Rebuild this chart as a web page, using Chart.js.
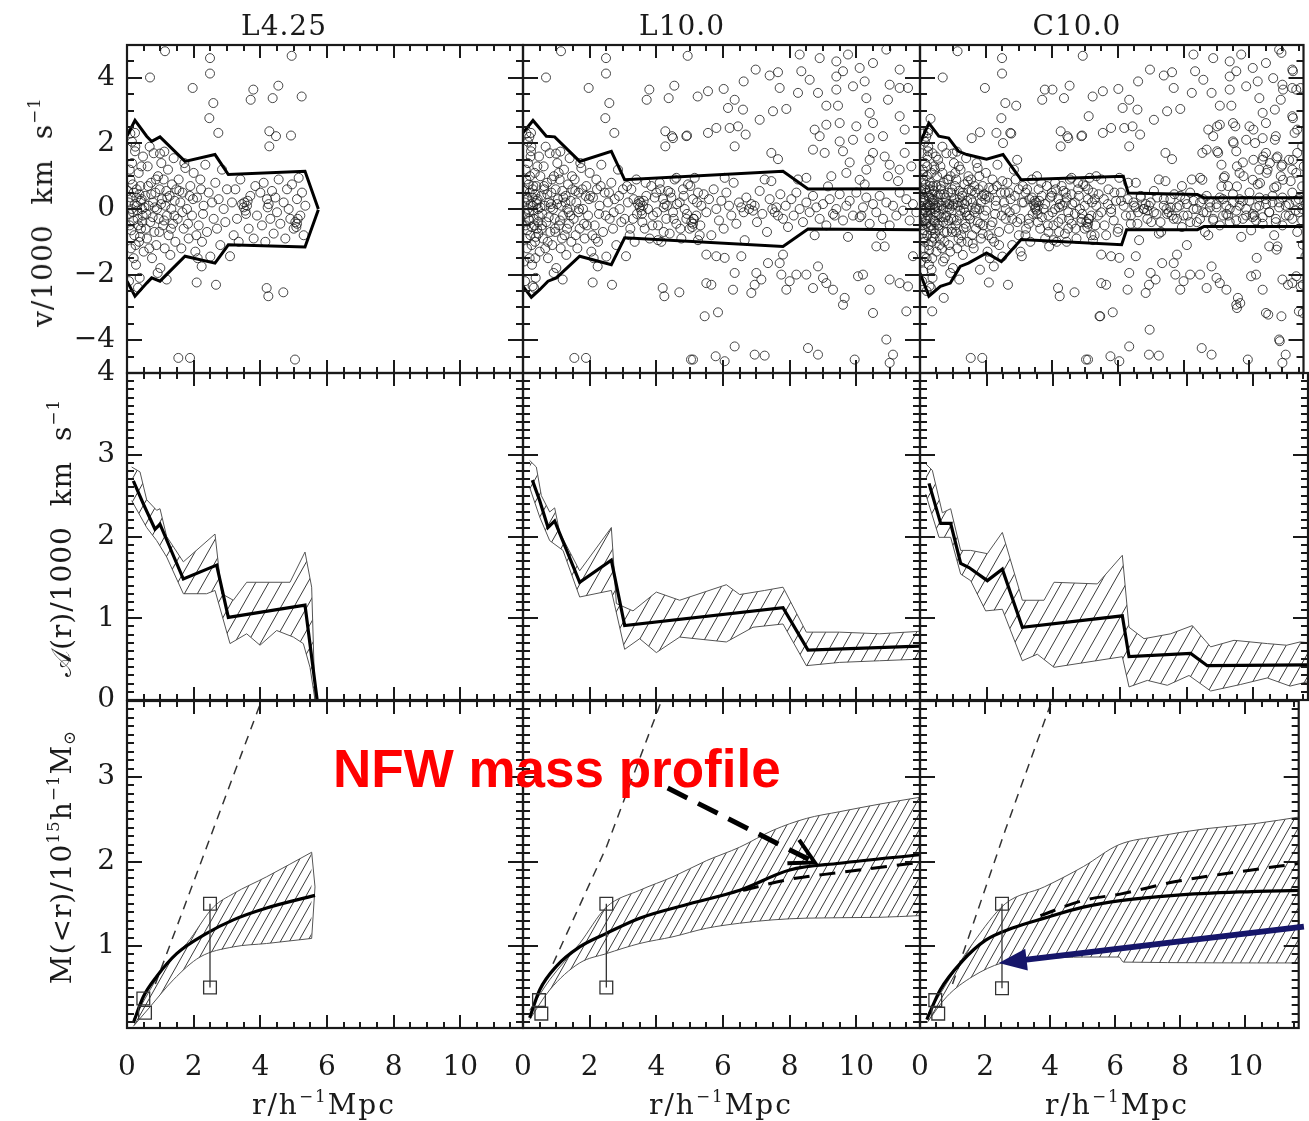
<!DOCTYPE html>
<html>
<head>
<meta charset="utf-8">
<script src="https://cdn.jsdelivr.net/npm/chart.js@4.4.1/dist/chart.umd.min.js"></script>
<style>
html, body { margin: 0; padding: 0; background: #fff; }
#page { position: relative; width: 1309px; height: 1121px; overflow: hidden; font-family: "DejaVu Serif", serif; color: #1a1a1a; }
#page canvas { position: absolute; left: 0; top: 0; }
.lbl { position: absolute; white-space: nowrap; font-size: 28px; line-height: 1; }
.ctr { transform: translate(-50%, -50%); }
.rot { transform: translate(-50%, -50%) rotate(-90deg); }
.lbl sup { font-size: 0.6em; vertical-align: 0.7em; line-height: 0; }
.lbl sub { font-size: 0.6em; vertical-align: -0.25em; line-height: 0; }
#nfw { position: absolute; left: 333px; top: 742px; font: bold 53px "Liberation Sans", Arial, sans-serif; color: #f00; line-height: 1; white-space: nowrap; }
</style>
</head>
<body>
<div id="page">
  <div class="lbl ctr" style="left:284px;top:26px;letter-spacing:1px">L4.25</div>
  <div class="lbl ctr" style="left:682px;top:26px;letter-spacing:1px">L10.0</div>
  <div class="lbl ctr" style="left:1077px;top:26px;letter-spacing:1px">C10.0</div>
  <div class="lbl rot" style="left:43px;top:212px;letter-spacing:1px">v/1000&nbsp;&nbsp;km&nbsp;&nbsp;s<sup>−1</sup></div>
  <div class="lbl rot" style="left:62px;top:538px;letter-spacing:1px">𝒜(r)/1000&nbsp;&nbsp;km&nbsp;&nbsp;s<sup>−1</sup></div>
  <div class="lbl rot" style="left:62px;top:857px;letter-spacing:1px">M(&lt;r)/10<sup>15</sup>h<sup>−1</sup>M<sub>⊙</sub></div>
  <div class="lbl ctr" style="left:324px;top:1105px;letter-spacing:2px">r/h<sup>−1</sup>Mpc</div>
  <div class="lbl ctr" style="left:721px;top:1105px;letter-spacing:2px">r/h<sup>−1</sup>Mpc</div>
  <div class="lbl ctr" style="left:1117px;top:1105px;letter-spacing:2px">r/h<sup>−1</sup>Mpc</div>
</div>
<script>
// ---- galaxies in the phase-space diagrams (r, v/1000 km/s) ----
// L4.25 sample (also present in L10.0 and C10.0)
const outerL425 = [[1.14,4.81],[0.69,4.01],[2.49,4.6],[2.49,4.13],[1.97,3.69],[2.59,3.23],[2.47,2.77],[2.74,2.32],[4.94,4.67],[3.79,3.64],[3.71,3.33],[4.37,3.38],[4.54,3.76],[5.24,3.43],[4.27,2.37],[4.47,2.22],[4.27,1.91],[4.92,2.24],[1.54,-4.54],[1.89,-4.54],[5.04,-4.59],[2.09,-2.24],[2.67,-2.31],[3.09,-1.44],[1.19,-2.15],[2.24,-1.75],[4.19,-2.41],[4.24,-2.66],[4.69,-2.54],[0.24,2.32],[0.24,1.76],[0.99,1.69]];
const innerL425 = [[0.05,0.2],[0.08,-0.5],[0.1,0.9],[0.12,-1.2],[0.15,1.4],[0.18,-0.1],[0.2,0.5],[0.22,-0.8],[0.25,1.9],[0.27,-1.7],[0.3,0.1],[0.32,-0.3],[0.35,1.1],[0.38,-2.1],[0.4,0.7],[0.42,-0.6],[0.45,0.0],[0.48,1.6],[0.1,2.3],[0.06,-2.2],[0.14,0.0],[0.28,0.35],[0.36,-1.0],[0.44,0.3],[0.2,-1.5],[0.33,-2.4],[0.15,2.05],[0.5,-1.3],[0.08,1.2],[0.47,-0.2],
  [0.55,0.4],[0.6,-0.9],[0.62,1.3],[0.65,0.1],[0.7,-0.4],[0.72,0.8],[0.75,-1.5],[0.78,0.2],[0.8,1.7],[0.82,-0.7],[0.85,0.5],[0.88,-1.1],[0.9,0.0],[0.93,1.0],[0.95,-0.3],[0.98,0.6],[1.0,-1.8],[1.03,1.4],[1.05,0.3],[1.08,-0.5],[1.1,0.9],[1.13,-1.2],[1.15,0.1],[1.18,0.55],[1.2,-0.2],[1.23,1.2],[1.25,-0.8],[1.28,0.4],[1.3,-1.4],[1.33,0.0],[1.35,0.75],[1.38,-0.45],[1.4,1.55],[1.43,0.25],[1.45,-1.0],[1.48,0.6],[0.68,1.9],[0.92,-1.95],[1.12,1.75],[0.58,-0.15],
  [1.52,-0.3],[1.55,0.9],[1.6,0.2],[1.63,-1.2],[1.67,0.5],[1.7,-0.6],[1.75,1.25],[1.8,0.0],[1.85,-0.9],[1.9,0.7],[1.95,-0.2],[2.0,1.1],[2.05,-1.3],[2.1,0.35],[2.15,-0.5],[2.2,0.9],[2.25,-1.0],[2.3,0.1],[2.35,1.35],[2.4,-0.7],[2.45,0.5],[2.5,-1.45],[2.55,0.2],[2.6,-0.3],[1.72,1.4],[2.12,-1.5],[1.88,0.4],[2.28,-0.15],
  [2.65,0.8],[2.7,-0.6],[2.75,0.3],[2.8,-1.1],[2.85,1.2],[2.9,0.0],[2.95,-0.4],[3.0,0.6],
  [3.15,0.2],[3.2,-0.8],[3.25,0.6],[3.3,-0.3],[3.4,0.9],[3.45,0.15],[3.5,0.05],[3.52,0.2],[3.55,-0.05],[3.6,0.1],[3.65,-0.6],[3.7,0.4],[3.8,-0.9],[3.85,0.7],[3.9,-0.2],[4.0,0.5],[4.05,-0.5],[4.1,0.8],[4.2,0.3],[4.25,0.15],[4.3,-0.3],[4.35,0.55],[4.4,-0.75],[4.45,0.35],[4.5,-0.1],[4.55,0.9],[4.6,-0.45],[4.7,0.2],[4.75,-0.9],[4.8,0.6],[4.85,0.0],[4.9,-0.3],[4.95,0.75],[5.0,-0.6],[5.05,-0.4],[5.1,-0.45],[5.1,0.3],[5.15,0.95],[5.2,-0.2],[5.25,0.5],[5.3,-0.8],[5.35,0.1],[4.15,-1.0],[3.35,-1.0],
  [0.03,0.55],[0.07,-0.15],[0.11,0.35],[0.13,-0.65],[0.17,0.75],[0.19,-0.35],[0.23,0.15],[0.26,-1.1],[0.29,0.6],[0.31,-0.05],[0.34,-0.5],[0.37,0.45],[0.39,-0.85],[0.41,0.25],[0.43,1.3],[0.46,-0.4],[0.52,0.05],[0.56,-0.6],[0.63,0.7],[0.67,-1.2],[0.73,0.45],[0.77,-0.25],[0.83,0.05],[0.87,0.9],[0.97,-0.7],[1.02,0.15],[1.11,-0.35],[1.21,0.35],[1.32,-0.6],[1.42,-0.2],[1.57,0.55],[1.66,-0.1],[1.83,-0.45],[1.98,0.3],[2.08,-0.8],[2.22,0.6],[3.57,-0.15],[3.62,0.25],[4.22,0.05],[5.08,-0.55],[5.12,-0.3]];
// extra galaxies seen in L10.0 (also in C10.0)
const outerL10 = [[5.55,3.59],[6.02,3.66],[6.62,3.89],[6.98,4.25],[7.4,4.07],[7.65,4.17],[7.7,3.69],[7.1,2.72],[7.5,2.98],[7.9,3.05],[6.15,3.08],[6.6,3.03],[6.35,3.33],[6.2,2.47],[6.45,2.52],[6.68,2.27],[6.35,1.91],[5.55,2.32],[5.8,2.47],[4.9,2.22],[4.5,2.16],[7.45,1.71],[7.65,1.52],[8.3,4.71],[8.9,4.6],[9.4,4.5],[9.75,4.71],[10.1,4.3],[10.5,4.45],[8.35,4.2],[8.6,3.94],[8.25,3.54],[8.85,3.54],[9.4,4.04],[9.6,4.2],[9.9,3.74],[10.25,3.89],[10.3,3.38],[9.4,3.64],[9.1,3.15],[9.45,3.15],[10.4,2.93],[10.5,2.62],[8.75,2.42],[9.1,2.57],[9.5,2.62],[10.0,2.52],[8.9,2.22],[9.5,2.06],[9.9,2.11],[10.4,2.16],[8.7,1.81],[9.05,1.71],[9.6,1.76],[9.8,1.42],[10.4,1.5],[10.5,1.71],[9.7,1.1],[10.3,1.2],[10.1,0.89],[8.5,0.95],[9.15,0.69],
  [5.1,-4.59],[5.78,-4.49],[6.05,-4.64],[6.35,-4.19],[6.95,-4.44],[7.25,-4.47],[8.55,-4.24],[8.85,-4.44],[9.95,-4.59],[5.45,-3.27],[5.85,-3.15],[10.5,-3.17],[5.5,-1.39],[5.8,-1.44],[6.05,-1.49],[6.55,-1.44],[5.5,-2.26],[5.65,-2.31],[6.3,-2.46],[6.35,-1.95],[6.85,-2.56],[6.95,-2.31],[7.0,-1.95],[7.15,-2.15],[7.35,-1.65],[7.7,-1.65],[7.75,-2.0],[7.8,-1.39],[8.0,-2.2],[7.9,-2.46],[8.2,-2.0],[8.5,-2.0],[8.7,-2.41],[8.85,-1.75],[9.0,-2.1],[9.1,-2.26],[9.3,-2.46],[9.6,-2.92],[9.65,-2.71],[10.05,-2.05],[10.2,-2.0],[10.4,-2.46],[10.6,-1.14],
  [10.9,4.86],[11.3,4.25],[11.0,3.79],[11.3,3.69],[11.55,3.69],[10.95,3.33],[11.3,2.83],[11.45,2.42],[10.8,2.22],[11.45,1.71],[10.85,1.6],[11.0,1.35],[11.3,1.2],[10.95,1.0],[11.65,1.3],[10.85,-1.14],[11.7,-1.44],[11.0,-2.15],[11.3,-2.26],[11.55,-2.36],[11.5,-3.12],[10.9,-3.98],[11.1,-4.44],[11.0,-4.69]];
const innerL10 = [[0.04,0.6],[0.09,-0.9],[0.13,0.3],[0.17,-0.3],[0.21,1.0],[0.26,-0.55],[0.31,0.7],[0.37,-1.5],[0.41,0.15],[0.46,-0.75],[0.52,1.0],[0.57,-0.5],[0.64,0.6],[0.74,-1.0],[0.84,0.15],[0.96,-0.6],[1.07,1.1],[1.17,-0.9],[1.27,0.2],[1.37,-0.1],[1.47,1.0],[1.58,-0.8],[1.68,0.0],[1.78,0.6],[1.92,-0.5],[2.02,0.4],[2.18,-0.9],[2.33,0.7],[2.48,-0.2],[2.58,0.5],[2.72,-0.1],[2.88,0.4],[0.03,-1.6],[0.19,2.2],[0.29,-2.35],[0.23,1.6],
  [3.05,-0.3],[3.12,0.7],[3.22,-0.6],[3.32,0.3],[3.42,-0.15],[3.48,0.25],[3.58,-0.4],[3.68,0.8],[3.75,0.0],[3.88,-0.5],[3.95,0.35],[4.02,-0.1],[4.12,0.6],[4.22,-0.7],[4.32,0.1],[4.42,0.5],[4.52,-0.3],[4.62,0.15],[4.72,-0.6],[4.82,0.4],[4.92,-0.15],[5.02,0.7],[5.12,-0.3],[5.22,0.2],[5.32,-0.5],[5.42,0.45],[5.5,-0.1],[5.58,0.3],[5.65,-0.8],[5.72,0.6],[5.8,0.0],[5.88,-0.35],[5.95,0.25],[6.02,-0.6],[6.1,0.5],[6.18,0.1],[6.25,-0.2],[6.32,0.8],[6.4,-0.45],[6.48,0.2],[6.55,0.05],[6.62,-0.1],[6.7,0.35],[6.78,0.0],[6.85,0.15],[6.9,-0.05],[6.95,0.1],[7.02,-0.4],[7.1,0.55],[7.18,-0.15],[7.25,0.9],[7.32,-0.7],[7.4,0.3],[7.48,0.0],[7.55,-0.1],[7.6,0.05],[7.65,-0.2],[7.72,0.45],[7.8,-0.3],[7.88,0.1],[7.95,-0.55],[6.05,0.95],[5.25,-0.95],[4.05,-0.95],[6.65,-0.95],[7.45,0.85],[4.6,0.95],
  [8.05,0.3],[8.12,-0.2],[8.2,0.5],[8.3,0.0],[8.4,-0.4],[8.5,0.2],[8.6,-0.1],[8.7,0.4],[8.8,0.05],[8.9,-0.3],[9.0,0.15],[9.1,-0.5],[9.2,0.3],[9.3,-0.15],[9.35,-0.2],[9.4,0.0],[9.5,0.45],[9.6,-0.35],[9.7,0.1],[9.8,0.25],[9.9,-0.2],[10.0,0.5],[10.1,-0.25],[10.15,-0.2],[10.2,0.05],[10.3,0.35],[10.4,-0.45],[10.5,0.15],[10.6,-0.1],[10.7,0.4],[10.8,-0.3],[10.9,0.2],[11.0,-0.5],[11.1,0.1],[11.2,-0.2],[11.3,0.5],[11.4,-0.05],[11.5,0.3],[11.6,-0.35],[11.7,0.15],[11.8,-0.1],[8.25,0.9],[8.75,-0.8],[9.25,1.0],[9.75,-0.85],[10.25,0.75],[10.75,-0.8],[11.25,0.85]];
// extra galaxies seen only in C10.0
const outerC10 = [[1.57,2.16],[1.82,2.34],[2.32,2.32],[2.77,2.3],[2.52,2.01],[2.92,3.15],[4.02,3.64],[5.12,2.83],[0.32,2.75],[0.37,-3.12],[0.72,-2.71],[1.82,-1.85],[3.92,-1.14],[10.97,-3.27],[10.57,-3.22],[6.97,-3.68],[10.92,-4.03],[11.62,-3.17],[5.47,-3.27],[9.62,-3.02],[9.72,-2.87],[11.17,-2.31],[11.42,-2.05],[11.62,-2.31],[10.82,-1.24],[10.22,-1.49],[11.62,-1.09],[9.02,2.52],[9.57,2.52],[10.12,2.42],[9.52,2.01],[10.17,2.01],[10.77,2.11],[11.37,2.32],[11.6,1.91],[8.57,1.71],[9.02,1.76],[9.22,0.95],[9.62,1.3],[10.12,1.5],[10.42,1.6],[10.62,1.4],[10.82,1.55],[10.97,1.3],[11.32,1.5],[9.82,1.0],[10.52,1.1],[11.02,0.89],[11.42,1.1],[8.57,0.89],[10.32,0.79],[10.82,0.69],[11.6,0.69],[9.62,0.69],[11.32,4.2],[11.42,3.64],[11.02,3.64],[10.72,3.99],[10.97,4.76],[11.32,2.77],[10.77,3.03]];
const innerC10 = [[0.02,0.1],[0.04,-0.3],[0.06,0.45],[0.07,-0.75],[0.09,1.05],[0.11,-0.05],[0.12,0.25],[0.14,-1.0],[0.16,0.6],[0.18,-0.45],[0.2,0.05],[0.22,1.3],[0.24,-0.2],[0.26,0.4],[0.28,-1.25],[0.3,0.8],[0.32,0.0],[0.34,-0.65],[0.36,0.3],[0.38,1.7],[0.4,-0.35],[0.42,0.55],[0.44,-0.9],[0.46,0.1],[0.48,-0.1],[0.5,0.7],[0.53,-0.45],[0.56,0.2],[0.59,-1.1],[0.62,0.45],[0.65,-0.25],[0.68,1.1],[0.71,0.0],[0.74,-0.7],[0.77,0.35],[0.8,-0.2],[0.83,0.9],[0.86,-0.35],[0.89,0.15],[0.92,-1.3],[0.95,0.5],[0.98,0.1],[1.02,-0.3],[1.06,0.7],[1.1,-0.7],[1.14,0.2],[1.18,1.3],[1.22,-0.05],[1.26,-1.0],[1.3,0.5],[1.35,0.15],[1.4,-0.55],[1.45,0.85],[1.5,-0.2],[1.55,0.3],[1.6,-1.05],[1.65,0.7],[1.7,0.05],[1.75,-0.4],[1.8,1.0],[1.85,0.2],[1.9,-0.75],[1.95,0.45],[2.0,-0.05],[2.1,0.65],[2.2,-0.4],[2.3,0.25],[2.4,-1.1],[2.5,0.85],[2.6,0.0],[0.1,-1.9],[0.05,1.7],[0.25,2.4],[0.2,-2.5],[0.35,-1.85],[0.55,1.5],[0.7,-1.6],[0.15,-1.45],[0.45,1.2],
  [2.7,0.5],[2.8,-0.3],[2.9,0.9],[3.0,-0.8],[3.1,0.2],[3.2,0.5],[3.3,-0.45],[3.4,0.35],[3.5,0.0],[3.6,0.6],[3.7,-0.25],[3.8,0.15],[3.9,-0.7],[4.0,0.4],[4.1,0.0],[4.2,-0.4],[4.3,0.7],[4.4,0.2],[4.5,-0.6],[4.6,0.45],[4.7,-0.15],[4.8,0.8],[4.9,-0.4],[5.0,0.1],[5.1,0.6],[5.2,-0.8],[5.3,0.3],[5.4,-0.2],[5.5,0.9],[5.6,-0.5],[5.7,0.15],[5.8,-0.1],[5.9,0.5],[6.0,-0.7],[6.1,0.25],[3.55,1.0],[4.45,-1.0],[5.35,1.0],[2.95,1.5],[3.05,-1.3],
  [6.3,0.3],[6.4,-0.2],[6.5,0.1],[6.6,-0.45],[6.7,0.4],[6.8,0.0],[6.9,-0.3],[7.0,0.2],[7.1,-0.1],[7.2,0.35],[7.3,-0.4],[7.4,0.1],[7.5,-0.15],[7.6,0.3],[7.7,-0.3],[7.8,0.05],[7.9,0.4],[8.0,-0.2],[8.1,0.15],[8.2,-0.4],[8.3,0.25],[8.4,0.0],[8.5,-0.3],[8.6,0.3],[8.7,-0.1],[8.8,0.2],[8.9,-0.35],[9.0,0.05],[9.1,0.35],[9.2,-0.2],[9.3,0.1],[9.4,-0.4],[9.5,0.2],[9.6,-0.05],[9.7,0.3],[9.8,-0.3],[9.9,0.0],[10.0,0.25],[10.1,-0.15],[10.2,-0.35],[10.3,0.1],[10.4,-0.25],[10.5,0.3],[10.6,-0.1],[10.7,0.2],[10.8,-0.4],[10.9,0.05],[11.0,0.35],[11.1,-0.2],[11.2,0.15],[11.3,-0.3],[11.4,0.25],[11.5,-0.1],[11.6,0.0],[6.55,0.8],[7.25,-0.75],[7.95,0.7],[8.65,-0.7],[9.35,0.7],[10.05,-0.65],[10.75,0.65],[11.45,-0.7],[9.15,1.35],[10.55,1.2],[11.2,1.5],[8.1,-1.1]];

// ---- caustics drawn on the phase-space diagrams ----
const causticUpL425 = [[0,2.22],[0.24,2.7],[0.59,2.22],[0.74,2.06],[0.99,2.2],[1.74,1.45],[2.64,1.66],[3.04,1.05],[5.34,1.15],[5.74,0]];
const causticLoL425 = [[0,-2.2],[0.24,-2.66],[0.59,-2.26],[0.74,-2.1],[0.99,-2.2],[1.74,-1.44],[2.64,-1.65],[3.04,-1.09],[5.34,-1.16],[5.74,-0.02]];
const causticUpL10 = [[0,2.32],[0.3,2.7],[0.7,2.22],[0.95,2.2],[1.7,1.45],[2.65,1.76],[3.05,0.89],[7.8,1.15],[8.55,0.61],[11.9,0.62]];
const causticLoL10 = [[0,-2.36],[0.25,-2.69],[0.5,-2.46],[0.75,-2.2],[1.0,-2.1],[1.7,-1.44],[2.65,-1.7],[3.05,-0.88],[7.8,-1.14],[8.55,-0.61],[11.9,-0.63]];
const causticUpC10 = [[0,2.01],[0.27,2.62],[0.57,2.22],[0.87,2.16],[1.17,1.76],[1.42,1.66],[2.02,1.52],[2.52,1.66],[3.07,0.89],[6.17,1.0],[6.32,0.49],[8.42,0.44],[8.62,0.34],[11.7,0.34]];
const causticLoC10 = [[0,-1.95],[0.27,-2.66],[0.62,-2.36],[0.92,-2.26],[1.22,-1.75],[1.47,-1.65],[2.02,-1.34],[2.47,-1.6],[3.07,-0.93],[6.12,-1.09],[6.27,-0.63],[8.42,-0.63],[8.62,-0.53],[11.7,-0.53]];

// ---- caustic amplitude A(r)/1000 km/s with its band ----
const ampL425 = [[0.19,2.68],[0.49,2.4],[0.84,2.09],[0.99,2.15],[1.69,1.48],[2.69,1.65],[3.04,1.01],[5.34,1.16],[5.72,-0.05]];
const ampHiL425 = [[0.14,2.85],[0.39,2.79],[0.59,2.45],[0.89,2.32],[0.99,2.34],[1.19,2.0],[1.69,1.69],[2.64,2.03],[2.84,1.3],[3.19,1.22],[3.59,1.44],[4.89,1.44],[5.34,1.81],[5.54,1.38],[5.64,0]];
const ampLoL425 = [[0.14,2.44],[0.59,2.11],[0.89,1.95],[1.19,1.75],[1.69,1.3],[2.39,1.3],[2.64,1.34],[3.09,0.69],[3.59,0.81],[3.99,0.67],[4.49,0.85],[4.99,0.77],[5.29,0.69],[5.49,0.4],[5.64,0]];
const ampL10 = [[0.28,2.69],[0.5,2.44],[0.75,2.11],[0.95,2.19],[1.7,1.44],[2.65,1.71],[3.05,0.91],[7.8,1.13],[8.55,0.61],[11.9,0.66]];
const ampHiL10 = [[0.2,2.93],[0.4,2.85],[0.55,2.5],[0.8,2.3],[0.95,2.35],[1.1,2.05],[1.7,1.58],[2.65,2.11],[2.8,1.18],[3.3,1.09],[4.0,1.32],[4.7,1.22],[6.1,1.41],[6.5,1.29],[7.25,1.34],[7.8,1.38],[8.5,0.83],[9.5,0.83],[10.7,0.81],[11.9,0.84]];
const ampLoL10 = [[0.2,2.6],[0.5,2.24],[0.8,1.95],[1.2,1.83],[1.7,1.26],[2.65,1.34],[3.05,0.62],[3.5,0.75],[4.0,0.58],[4.7,0.77],[6.1,0.71],[6.9,0.89],[7.8,0.93],[8.5,0.42],[9.5,0.46],[10.7,0.48],[11.9,0.5]];
const ampC10 = [[0.27,2.65],[0.62,2.16],[0.92,2.16],[1.22,1.67],[1.47,1.62],[2.02,1.46],[2.47,1.6],[3.07,0.89],[6.07,1.03],[6.27,0.53],[8.12,0.57],[8.62,0.42],[11.7,0.43]];
const ampHiC10 = [[0.17,2.89],[0.37,2.81],[0.67,2.29],[0.92,2.34],[1.22,1.83],[1.52,1.83],[2.02,1.79],[2.47,2.05],[3.07,1.22],[3.72,1.22],[4.02,1.44],[5.32,1.42],[6.07,1.77],[6.27,0.89],[6.72,0.75],[7.52,0.81],[8.17,0.91],[8.72,0.65],[9.42,0.73],[10.42,0.69],[11.0,0.67],[11.4,0.71],[11.7,0.7]];
const ampLoC10 = [[0.17,2.52],[0.57,1.99],[0.92,1.99],[1.22,1.54],[1.52,1.46],[1.97,1.09],[2.47,1.11],[3.07,0.48],[3.52,0.56],[4.02,0.4],[6.07,0.53],[6.27,0.16],[6.82,0.24],[7.42,0.18],[8.07,0.3],[8.72,0.11],[9.62,0.19],[10.42,0.27],[11.1,0.17],[11.7,0.23]];

// ---- mass profiles M(<r)/10^15 h^-1 Msun ----
const massL425 = [[0.19,0.09],[0.49,0.4],[0.89,0.64],[1.49,0.91],[2.39,1.15],[3.19,1.31],[4.19,1.45],[5.64,1.6]];
const massHiL425 = [[0.19,0.13],[0.69,0.48],[1.19,0.8],[1.79,1.03],[2.59,1.46],[3.19,1.62],[4.19,1.82],[5.54,2.11]];
const massLoL425 = [[0.19,0.05],[0.69,0.28],[1.39,0.6],[2.19,0.87],[3.19,0.99],[4.19,1.03],[5.54,1.09]];
const massEdgeL425 = [[5.54,2.11],[5.64,1.7],[5.54,1.09]];
const guideL425 = [[0.85,0.55],[4.03,3.9]];
const errL425 = [[2.49,1.5],[2.49,0.51]];
const coreL425 = [[0.49,0.38],[0.54,0.21]];

const massL10 = [[0.2,0.15],[0.5,0.48],[1.0,0.76],[1.7,0.99],[2.5,1.15],[3.5,1.33],[5.0,1.5],[6.5,1.66],[8.0,1.9],[9.5,1.98],[11.9,2.08]];
const nfwL10 = [[6.6,1.66],[8.0,1.79],[9.5,1.87],[11.9,1.99]];
const massHiL10 = [[0.2,0.24],[0.8,0.6],[1.7,1.03],[2.5,1.46],[3.5,1.66],[4.5,1.82],[5.5,2.01],[6.5,2.17],[7.5,2.37],[8.5,2.51],[9.5,2.59],[10.7,2.68],[11.9,2.76]];
const massLoL10 = [[0.2,0.13],[0.8,0.48],[1.7,0.8],[2.5,0.91],[3.5,1.03],[4.5,1.11],[5.5,1.21],[6.5,1.27],[7.5,1.31],[8.5,1.33],[10.7,1.34],[11.9,1.36]];
const guideL10 = [[0.9,0.79],[2.5,2.17],[4.15,3.9]];
const errL10 = [[2.5,1.5],[2.5,0.51]];
const coreL10 = [[0.48,0.36],[0.55,0.2]];

const massC10 = [[0.21,0.13],[0.62,0.48],[1.32,0.83],[2.02,1.07],[2.82,1.21],[3.82,1.33],[5.02,1.46],[6.22,1.54],[7.82,1.6],[9.82,1.64],[11.7,1.66]];
const nfwC10 = [[3.7,1.36],[5.02,1.54],[6.22,1.62],[7.82,1.76],[9.82,1.88],[11.7,1.98]];
const massHiC10 = [[0.21,0.17],[0.82,0.56],[1.62,1.03],[2.62,1.5],[3.82,1.7],[5.02,1.94],[6.12,2.2],[7.32,2.3],[8.82,2.39],[10.32,2.45],[11.7,2.53]];
const massLoC10 = [[0.21,0.09],[0.82,0.4],[1.62,0.64],[2.52,0.8],[3.82,0.85],[5.02,0.87],[6.12,0.87],[6.25,0.81],[11.7,0.8]];
const guideC10 = [[1.0,0.55],[2.62,2.37],[4.05,3.9]];
const errC10 = [[2.52,1.5],[2.52,0.5]];
const coreC10 = [[0.47,0.36],[0.56,0.2]];

// annotation arrows (data coordinates of the panel they sit in)
const nfwArrow = [[4.34,2.87],[8.75,1.99]];
const blueArrow = [[11.8,1.23],[2.42,0.8]];

// tick labels
const xLabels = [0, 2, 4, 6, 8, 10];
const yLabelsV = [-4, -2, 0, 2, 4];
const yLabelsA = [0, 1, 2, 3, 4];
const yLabelsM = [1, 2, 3];

const W = 1309, H = 1121;
const page = document.getElementById('page');
const cols = [{l: 127, r: 523, max: 11.88}, {l: 523, r: 920, max: 11.91}, {l: 920, r: 1308, max: 11.64}];
const rows = [
  {t: 45, b: 373, min: -5, max: 5, major: 2, minor: 0.5, labels: yLabelsV},
  {t: 373, b: 700, min: 0, max: 4, major: 1, minor: 0.1, labels: yLabelsA},
  {t: 701, b: 1028, min: 0.03, max: 3.9, major: 1, minor: 0.1, labels: yLabelsM}
];
const tickFont = {family: 'DejaVu Serif', size: 28};
const xy = a => a.map(p => ({x: p[0], y: p[1]}));

function hatch(w, h) {
  const c = document.createElement('canvas');
  c.width = w; c.height = h;
  const g = c.getContext('2d');
  g.strokeStyle = '#3a3a3a';
  g.lineWidth = 1;
  for (const o of [-w, 0, w]) {
    g.beginPath(); g.moveTo(o, h); g.lineTo(o + w, 0); g.stroke();
  }
  return g.createPattern(c, 'repeat');
}
const hatchMid = hatch(13, 23);
const hatchLow = hatch(9, 16);

// tick positions along an axis range (every minor step, flagging majors)
function tickMarks(min, max, minor, major) {
  const out = [];
  const n0 = Math.ceil(min / minor - 1e-6), n1 = Math.floor(max / minor + 1e-6);
  const per = Math.round(major / minor);
  for (let n = n0; n <= n1; n++) out.push({v: n * minor, major: n % per === 0});
  return out;
}

// border + inward tick marks on all four sides
function framePlugin(xt, yt) {
  return {
    id: 'frame',
    afterDraw(chart) {
      const ctx = chart.ctx, a = chart.chartArea;
      const sx = chart.scales.x, sy = chart.scales.y;
      ctx.save();
      ctx.fillStyle = '#1a1a1a';
      xt.forEach(t => {
        const px = Math.round(sx.getPixelForValue(t.v));
        const len = t.major ? 13 : 6;
        ctx.fillRect(px - 1, a.bottom - len, 2, len);
        ctx.fillRect(px - 1, a.top, 2, len);
      });
      yt.forEach(t => {
        const py = Math.round(sy.getPixelForValue(t.v));
        const len = t.major ? 15 : 7;
        ctx.fillRect(a.left, py - 1, len, 2);
        ctx.fillRect(a.right - len, py - 1, len, 2);
      });
      ctx.strokeStyle = '#1a1a1a';
      ctx.lineWidth = 2.2;
      ctx.strokeRect(a.left, a.top, a.right - a.left, a.bottom - a.top);
      ctx.restore();
    }
  };
}

function arrowPlugin(list) {
  return {
    id: 'arrows',
    afterDraw(chart) {
      const {ctx, scales: {x, y}} = chart;
      list.forEach(ar => {
        const x0 = x.getPixelForValue(ar.pts[0][0]), y0 = y.getPixelForValue(ar.pts[0][1]);
        const x1 = x.getPixelForValue(ar.pts[1][0]), y1 = y.getPixelForValue(ar.pts[1][1]);
        const ang = Math.atan2(y1 - y0, x1 - x0);
        const c = Math.cos(ang), s = Math.sin(ang);
        ctx.save();
        ctx.strokeStyle = ar.color; ctx.fillStyle = ar.color;
        ctx.lineWidth = ar.width;
        ctx.setLineDash(ar.dash || []);
        const back = ar.filled ? ar.head * 0.7 : 0;
        ctx.beginPath();
        ctx.moveTo(x0, y0);
        ctx.lineTo(x1 - back * c, y1 - back * s);
        ctx.stroke();
        ctx.setLineDash([]);
        ctx.beginPath();
        ctx.moveTo(x1 - ar.head * c + ar.half * s, y1 - ar.head * s - ar.half * c);
        ctx.lineTo(x1, y1);
        ctx.lineTo(x1 - ar.head * c - ar.half * s, y1 - ar.head * s + ar.half * c);
        if (ar.filled) { ctx.closePath(); ctx.fill(); }
        else { ctx.lineWidth = ar.width * 0.8; ctx.stroke(); }
        ctx.restore();
      });
    }
  };
}

function panel(ri, ci, datasets, arrows) {
  const R = rows[ri], C = cols[ci];
  const showY = ci === 0, showX = ri === 2;
  const yw = showY ? 60 : 0, xh = showX ? 56 : 0;
  const cv = document.createElement('canvas');
  cv.width = W; cv.height = H;
  page.insertBefore(cv, page.firstChild);
  const xt = tickMarks(0, C.max, 0.5, 2);
  const yt = tickMarks(R.min, R.max, R.minor, R.major);
  return new Chart(cv, {
    type: 'line',
    data: {datasets},
    options: {
      responsive: false,
      animation: false,
      devicePixelRatio: 1,
      events: [],
      layout: {padding: {left: C.l - yw, right: W - C.r, top: R.t, bottom: H - R.b - xh}},
      elements: {line: {tension: 0}, point: {radius: 0}},
      plugins: {legend: {display: false}, tooltip: {enabled: false}},
      scales: {
        x: {
          type: 'linear', min: 0, max: C.max, display: showX,
          grid: {display: false, drawTicks: false}, border: {display: false},
          afterFit: s => { s.height = xh; },
          afterBuildTicks: s => { s.ticks = xLabels.map(v => ({value: v})); },
          ticks: {font: tickFont, color: '#1a1a1a', padding: 23, autoSkip: false, maxRotation: 0}
        },
        y: {
          type: 'linear', min: R.min, max: R.max, display: showY,
          grid: {display: false, drawTicks: false}, border: {display: false},
          afterFit: s => { s.width = yw; },
          afterBuildTicks: s => { s.ticks = R.labels.map(v => ({value: v})); },
          ticks: {font: tickFont, color: '#1a1a1a', padding: 12, autoSkip: false,
                  callback: v => (v < 0 ? '\u2212' + Math.abs(v) : String(v))}
        }
      }
    },
    plugins: [framePlugin(xt, yt), arrowPlugin(arrows || [])]
  });
}

const line = (data, w, color, extra) => Object.assign({data: xy(data), borderColor: color, borderWidth: w, pointRadius: 0, fill: false}, extra || {});
const galaxies = pts => ({data: xy(pts), showLine: false, pointRadius: 4.5, pointBorderWidth: 1,
  pointBorderColor: 'rgba(25,25,25,0.8)', pointBackgroundColor: 'rgba(0,0,0,0)'});

// top row: phase space
const setL425 = innerL425.concat(outerL425);
const setL10 = setL425.concat(innerL10, outerL10);
const setC10 = setL10.concat(innerC10, outerC10);
panel(0, 0, [line(causticUpL425, 3, '#000'), line(causticLoL425, 3, '#000'), galaxies(setL425)]);
panel(0, 1, [line(causticUpL10, 3, '#000'), line(causticLoL10, 3, '#000'), galaxies(setL10)]);
panel(0, 2, [line(causticUpC10, 3, '#000'), line(causticLoC10, 3, '#000'), galaxies(setC10)]);

// middle row: caustic amplitude
const ampSets = (m, hi, lo) => [
  line(m, 3.2, '#000'),
  line(hi, 1, '#555', {fill: '+1', backgroundColor: hatchMid}),
  line(lo, 1, '#555')
];
panel(1, 0, ampSets(ampL425, ampHiL425, ampLoL425));
panel(1, 1, ampSets(ampL10, ampHiL10, ampLoL10));
panel(1, 2, ampSets(ampC10, ampHiC10, ampLoC10));

// bottom row: mass profiles
const sq = {pointStyle: 'rect', pointRadius: 9, pointBorderWidth: 1.3, pointBorderColor: '#333', pointBackgroundColor: 'rgba(0,0,0,0)'};
const massSets = (m, nfw, hi, lo, guide, err, core, edge) => {
  const out = [
    line(err, 1.3, '#333', sq),
    line(core, 1.3, '#333', Object.assign({showLine: false}, sq)),
    line(m, 3.2, '#000', {cubicInterpolationMode: 'monotone'})
  ];
  if (nfw) out.push(line(nfw, 3, '#000', {borderDash: [16, 10], cubicInterpolationMode: 'monotone'}));
  out.push(line(guide, 1.5, '#333', {borderDash: [9, 7]}));
  if (edge) out.push(line(edge, 1, '#555'));
  out.push(line(hi, 1, '#555', {fill: '+1', backgroundColor: hatchLow, cubicInterpolationMode: 'monotone'}));
  out.push(line(lo, 1, '#555', {cubicInterpolationMode: 'monotone'}));
  return out;
};
panel(2, 0, massSets(massL425, null, massHiL425, massLoL425, guideL425, errL425, coreL425, massEdgeL425));
panel(2, 1, massSets(massL10, nfwL10, massHiL10, massLoL10, guideL10, errL10, coreL10),
  [{pts: nfwArrow, color: '#000', width: 5, dash: [22, 12], head: 24, half: 13, filled: false}]);
panel(2, 2, massSets(massC10, nfwC10, massHiC10, massLoC10, guideC10, errC10, coreC10),
  [{pts: blueArrow, color: '#16166a', width: 6, head: 28, half: 11, filled: true}]);

const nfw = document.createElement('div');
nfw.id = 'nfw';
nfw.textContent = 'NFW mass profile';
page.appendChild(nfw);
</script>
</body>
</html>
